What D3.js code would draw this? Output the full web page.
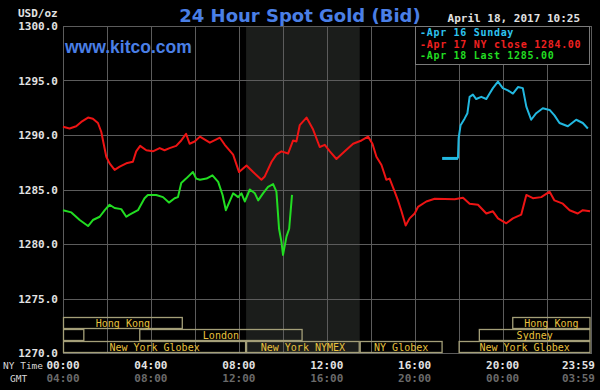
<!DOCTYPE html>
<html><head><meta charset="utf-8">
<script src="https://cdn.jsdelivr.net/npm/d3@7"></script>
<style>
html,body{margin:0;padding:0;background:#000;}
svg{display:block;}
</style></head><body>
<svg id="c" width="600" height="390"></svg>
<script>
// ---------- data ----------
const yTicks = [1270, 1275, 1280, 1285, 1290, 1295, 1300];
const gridHours = [0, 2, 4, 6, 8, 10, 12, 14, 16, 18, 20, 22, 24];
const tickHours = [0, 4, 8, 12, 16, 20, 24];
const nyTimeLabels = ["00:00", "04:00", "08:00", "12:00", "16:00", "20:00", "23:59"];
const gmtLabels = ["04:00", "08:00", "12:00", "16:00", "20:00", "00:00", "03:59"];

const apr17Hours = [0.00,0.30,0.60,0.83,1.14,1.36,1.59,1.74,1.85,1.97,2.12,2.35,2.58,2.88,3.18,3.33,3.51,3.79,4.09,4.40,4.62,4.85,5.15,5.38,5.60,5.76,5.99,6.23,6.68,7.14,7.36,7.74,8.01,8.35,8.65,9.03,9.18,9.49,9.71,9.94,10.24,10.47,10.62,10.77,11.08,11.38,11.68,11.91,12.14,12.44,12.82,13.20,13.58,13.88,14.08,14.26,14.49,14.71,14.86,15.09,15.24,15.40,15.59,15.77,16.00,16.15,16.53,16.91,17.82,18.20,18.50,18.88,19.26,19.56,19.79,20.17,20.47,20.85,21.08,21.38,21.76,22.14,22.36,22.74,23.05,23.42,23.65,23.98];
const apr17Values = [1290.75,1290.6,1290.8,1291.2,1291.6,1291.5,1291.1,1290.3,1289.2,1288.0,1287.4,1286.8,1287.1,1287.4,1287.55,1288.5,1289.0,1288.6,1288.5,1288.8,1288.6,1288.8,1289.0,1289.5,1290.1,1289.2,1289.4,1289.85,1289.3,1289.75,1289.1,1288.2,1286.6,1287.2,1286.6,1285.9,1286.2,1287.55,1288.2,1288.5,1288.3,1289.5,1289.4,1290.9,1291.6,1290.5,1288.9,1289.1,1288.5,1287.8,1288.5,1289.2,1289.5,1289.85,1289.2,1288.0,1287.25,1285.9,1286.0,1284.8,1284.0,1283.0,1281.7,1282.35,1282.8,1283.4,1283.9,1284.15,1284.1,1284.25,1283.7,1283.6,1282.8,1283.0,1282.35,1281.9,1282.35,1282.7,1284.5,1284.2,1284.3,1284.8,1284.0,1283.7,1283.1,1282.8,1283.1,1283.0];

const apr18Hours = [0.00,0.38,0.76,1.14,1.36,1.67,1.90,2.12,2.35,2.65,2.88,3.03,3.41,3.71,3.86,4.24,4.55,4.82,5.08,5.23,5.38,5.60,5.91,6.06,6.23,6.53,6.80,7.06,7.26,7.41,7.74,7.97,8.12,8.27,8.50,8.73,8.88,9.10,9.33,9.56,9.71,9.83,9.94,10.01,10.17,10.29,10.42];
const apr18Values = [1283.1,1282.9,1282.2,1281.65,1282.2,1282.5,1283.1,1283.6,1283.3,1283.2,1282.5,1282.7,1283.1,1284.2,1284.5,1284.5,1284.3,1283.8,1284.2,1284.3,1285.6,1286.0,1286.6,1286.0,1285.9,1286.0,1286.3,1285.7,1284.5,1283.1,1284.65,1284.3,1284.65,1283.9,1285.0,1284.65,1284.0,1284.65,1285.25,1285.5,1284.8,1281.4,1280.2,1279.0,1280.7,1281.4,1284.5];

const apr16Hours = [18.00,18.09,18.27,18.40,18.50,18.65,18.80,19.03,19.26,19.41,19.56,19.79,20.01,20.24,20.47,20.70,20.92,21.08,21.30,21.53,21.83,22.14,22.36,22.59,22.97,23.35,23.65,23.88];
const apr16Values = [1289.7,1290.9,1291.5,1292.0,1293.5,1293.7,1293.3,1293.5,1293.3,1293.8,1294.3,1294.9,1294.3,1294.1,1293.8,1294.4,1294.3,1292.6,1291.4,1292.0,1292.45,1292.3,1291.8,1291.1,1290.8,1291.4,1291.1,1290.6];
const apr16OpenHours = [17.25, 17.97];
const apr16OpenValues = [1287.85, 1287.85];

const legendLabels = ["Apr 16 Sunday", "Apr 17 NY close 1284.00", "Apr 18 Last 1285.00"];
const titleText = "24 Hour Spot Gold (Bid)";
const dateText = "April 18, 2017 10:25";
const unitText = "USD/oz";
const siteText = "www.kitco.com";

const nymexShade = [8.33, 13.5];

const sessionNames = ["Hong Kong", "Hong Kong", "Sydney", "London", "Sydney", "New York Globex", "New York NYMEX", "NY Globex", "New York Globex"];
const sessionRows  = [0, 0, 1, 1, 1, 2, 2, 2, 2];
const sessionStart = [0, 20.44, 0, 3.47, 18.92, 0, 8.33, 13.5, 18.0];
const sessionEnd   = [5.45, 24, 0.97, 10.9, 24, 8.33, 13.5, 17.27, 24];

// ---------- layout ----------
const svg = d3.select("#c");
const L = 63, R = 590.5, T = 26, B = 353;
const x = d3.scaleLinear().domain([0, 24]).range([L, R]);
const y = d3.scaleLinear().domain([1270, 1300]).range([B, T]);
const mono = '"DejaVu Sans Mono", monospace';
const gridCol = "#5c5c5c";

svg.append("rect").attr("width", 600).attr("height", 390).attr("fill", "#000");

// shaded NYMEX region
svg.append("rect")
  .attr("x", x(nymexShade[0])).attr("y", T)
  .attr("width", x(nymexShade[1]) - x(nymexShade[0])).attr("height", B - T)
  .attr("fill", "#1b1d1b");

// grid
const g = svg.append("g").attr("shape-rendering", "crispEdges");
g.selectAll("line.v").data(gridHours).join("line")
  .attr("x1", d => Math.round(x(d)) + 0.5).attr("x2", d => Math.round(x(d)) + 0.5)
  .attr("y1", T).attr("y2", B).attr("stroke", gridCol).attr("stroke-width", 1);
g.selectAll("line.h").data(yTicks).join("line")
  .attr("y1", d => Math.round(y(d)) + 0.5).attr("y2", d => Math.round(y(d)) + 0.5)
  .attr("x1", L).attr("x2", R + 1).attr("stroke", gridCol).attr("stroke-width", 1);

// y axis labels
const yAxis = svg.append("g").attr("transform", `translate(${L},0)`)
  .call(d3.axisLeft(y).tickValues(yTicks).tickFormat(d3.format(".1f")).tickSize(0).tickPadding(5));
yAxis.select(".domain").remove();
yAxis.selectAll("text").attr("fill", "#e2e2e2").attr("font-family", mono)
  .attr("font-size", 11).attr("font-weight", "bold").attr("dy", "0.35em");

svg.append("text").attr("x", 18).attr("y", 17).text(unitText)
  .attr("fill", "#e2e2e2").attr("font-family", mono).attr("font-size", 11).attr("font-weight", "bold");

// sessions
const rowH = 12;
const rowTop = r => B - (3 - r) * rowH;
const sg = svg.append("g");
sessionNames.forEach((name, i) => {
  const x0 = x(Math.max(0, sessionStart[i])), x1 = x(Math.min(24, sessionEnd[i]));
  const yt = rowTop(sessionRows[i]);
  sg.append("rect").attr("x", x0 + 0.5).attr("y", yt + 0.5)
    .attr("width", x1 - x0 - 1).attr("height", rowH - 1)
    .attr("fill", "none").attr("stroke", "#a49f78").attr("stroke-width", 1.3);
  const est = name.length * 6;
  if (x1 - x0 > est + 4) {
    sg.append("text").attr("x", (x0 + x1) / 2).attr("y", yt + rowH / 2 + 0.5)
      .attr("dy", "0.35em").attr("text-anchor", "middle")
      .attr("fill", "#e8c23e").attr("font-family", mono).attr("font-size", 10)
      .text(name);
  }
});

// lines
const line = d3.line().x(d => x(d[0])).y(d => y(d[1]));
const zipS = (h, v) => h.map((d, i) => [d, v[i]]);
svg.append("path").datum(zipS(apr17Hours, apr17Values)).attr("d", line)
  .attr("fill", "none").attr("stroke", "#ee1414").attr("stroke-width", 2).attr("stroke-linejoin", "round");
svg.append("path").datum(zipS(apr18Hours, apr18Values)).attr("d", line)
  .attr("fill", "none").attr("stroke", "#22dd22").attr("stroke-width", 2).attr("stroke-linejoin", "round");
svg.append("path").datum(zipS(apr16OpenHours, apr16OpenValues)).attr("d", line)
  .attr("fill", "none").attr("stroke", "#22b8e0").attr("stroke-width", 3);
svg.append("path").datum(zipS([apr16OpenHours[1]].concat(apr16Hours), [apr16OpenValues[1]].concat(apr16Values))).attr("d", line)
  .attr("fill", "none").attr("stroke", "#22b8e0").attr("stroke-width", 2).attr("stroke-linejoin", "round");

// title etc
svg.append("text").attr("x", 300).attr("y", 21.5).attr("text-anchor", "middle")
  .attr("font-family", '"DejaVu Sans", sans-serif').attr("font-weight", "bold").attr("font-size", 18)
  .attr("fill", "#4a7fe6").text(titleText);
svg.append("text").attr("x", 65).attr("y", 52.5)
  .attr("font-family", '"Liberation Sans", Arial, sans-serif').attr("font-weight", "bold").attr("font-size", 17.5)
  .attr("fill", "#4a7fe6").text(siteText);
svg.append("text").attr("x", 580).attr("y", 22).attr("text-anchor", "end")
  .attr("font-family", mono).attr("font-size", 11).attr("font-weight", "bold")
  .attr("fill", "#e2e2e2").text(dateText);

// legend
const legCols = ["#2ec4f0", "#f02020", "#22dd22"];
svg.append("rect").attr("x", 415.5).attr("y", T + 0.5).attr("width", 174).attr("height", 38)
  .attr("fill", "#000").attr("stroke", "#7a7a7a").attr("stroke-width", 1);
legendLabels.forEach((t, i) => {
  svg.append("text").attr("x", 420).attr("y", 36 + i * 11.6)
    .attr("font-family", mono).attr("font-size", 10).attr("font-weight", "bold")
    .attr("letter-spacing", 0.7)
    .attr("fill", legCols[i]).text("-" + t);
});

// x labels
svg.append("text").attr("x", 3).attr("y", 369).text("NY Time")
  .attr("fill", "#d8d8d8").attr("font-family", mono).attr("font-size", 9.5);
svg.append("text").attr("x", 10).attr("y", 382).text("GMT")
  .attr("fill", "#d8d8d8").attr("font-family", mono).attr("font-size", 9.5);
tickHours.forEach((h, i) => {
  const last = i === tickHours.length - 1;
  const xx = last ? x(h) + 4.5 : x(h);
  const anchor = last ? "end" : "middle";
  svg.append("text").attr("x", xx).attr("y", 369).attr("text-anchor", anchor)
    .attr("fill", "#e2e2e2").attr("font-family", mono).attr("font-size", 11).attr("font-weight", "bold")
    .text(nyTimeLabels[i]);
  svg.append("text").attr("x", xx).attr("y", 382).attr("text-anchor", anchor)
    .attr("fill", "#6a6a6a").attr("font-family", mono).attr("font-size", 11).attr("font-weight", "bold")
    .text(gmtLabels[i]);
});
</script>
</body></html>
